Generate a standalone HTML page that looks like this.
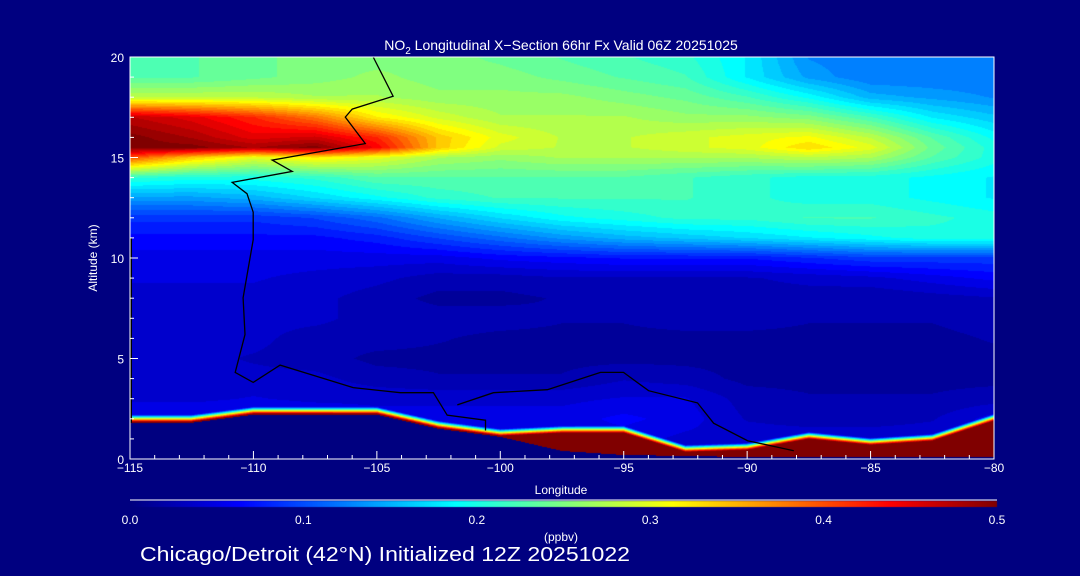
<!DOCTYPE html>
<html><head><meta charset="utf-8">
<style>
html,body{margin:0;padding:0;background:#000080;}
#wrap{position:relative;width:1080px;height:576px;background:#000080;overflow:hidden;font-family:"Liberation Sans",sans-serif;}
canvas,svg{position:absolute;left:0;top:0;}
</style></head>
<body>
<div id="wrap">
<canvas id="field" width="1080" height="576"></canvas>
<svg id="ov" width="1080" height="576"></svg>
</div>
<script>
// ---- data ----
const lons = [-115,-112.5,-110,-107.5,-105,-102.5,-100,-97.5,-95,-92.5,-90,-87.5,-85,-82.5,-80];
const alts = [0,1,2,3,4,5,6,7,8,9,10,11,12,13,14,15,15.5,16,17,18,19,20];
const a0  = [0.05,0.05,0.05,0.05,0.05,0.05,0.05,0.05,0.05,0.04,0.04,0.04,0.04,0.04,0.04];
const a1  = [0.05,0.05,0.05,0.05,0.05,0.05,0.05,0.05,0.05,0.04,0.04,0.04,0.04,0.04,0.04];
const a2  = [0.06,0.06,0.06,0.06,0.05,0.05,0.05,0.05,0.06,0.05,0.03,0.025,0.025,0.03,0.05];
const a3  = [0.04,0.04,0.045,0.04,0.04,0.04,0.04,0.04,0.045,0.045,0.025,0.02,0.02,0.02,0.025];
const a4  = [0.035,0.035,0.035,0.035,0.025,0.02,0.02,0.02,0.03,0.025,0.015,0.015,0.015,0.015,0.015];
const a5  = [0.035,0.035,0.03,0.025,0.015,0.015,0.015,0.015,0.015,0.015,0.015,0.015,0.015,0.015,0.015];
const a6  = [0.035,0.035,0.035,0.025,0.025,0.02,0.015,0.015,0.015,0.015,0.015,0.015,0.015,0.015,0.02];
const a7  = [0.04,0.04,0.035,0.035,0.025,0.025,0.025,0.02,0.02,0.025,0.025,0.02,0.02,0.02,0.025];
const a8  = [0.04,0.04,0.04,0.035,0.025,0.015,0.015,0.02,0.025,0.025,0.025,0.025,0.02,0.025,0.03];
const a9  = [0.045,0.045,0.045,0.04,0.035,0.025,0.025,0.03,0.03,0.03,0.03,0.035,0.04,0.05,0.06];
const a10 = [0.05,0.05,0.05,0.05,0.05,0.05,0.06,0.065,0.07,0.07,0.07,0.08,0.09,0.09,0.09];
const a11 = [0.065,0.065,0.065,0.065,0.075,0.095,0.115,0.135,0.15,0.16,0.17,0.18,0.19,0.2,0.2];
const a12 = [0.085,0.085,0.085,0.095,0.115,0.145,0.17,0.19,0.2,0.21,0.21,0.22,0.22,0.21,0.2];
const a13 = [0.14,0.14,0.15,0.17,0.19,0.21,0.22,0.22,0.22,0.22,0.21,0.2,0.2,0.19,0.18];
const a14 = [0.21,0.2,0.2,0.21,0.23,0.23,0.23,0.23,0.23,0.22,0.21,0.2,0.2,0.19,0.18];
const a15 = [0.4,0.34,0.3,0.32,0.3,0.27,0.26,0.27,0.27,0.27,0.27,0.28,0.27,0.23,0.2];
const a155= [0.5,0.5,0.48,0.5,0.44,0.34,0.29,0.28,0.28,0.29,0.3,0.33,0.3,0.24,0.2];
const a16 = [0.5,0.48,0.45,0.46,0.42,0.34,0.3,0.28,0.28,0.29,0.3,0.31,0.28,0.23,0.19];
const a17 = [0.47,0.45,0.42,0.38,0.32,0.29,0.27,0.27,0.27,0.26,0.26,0.25,0.22,0.18,0.16];
const a18 = [0.28,0.28,0.28,0.27,0.27,0.26,0.26,0.26,0.25,0.24,0.22,0.19,0.15,0.14,0.13];
const a19 = [0.23,0.23,0.24,0.25,0.26,0.25,0.25,0.24,0.23,0.22,0.18,0.14,0.12,0.12,0.12];
const a20 = [0.22,0.23,0.24,0.25,0.25,0.25,0.24,0.23,0.22,0.21,0.18,0.13,0.12,0.12,0.12];
const terrain = [1.8,1.8,2.2,2.2,2.2,1.5,1.1,0.4,0.2,0.15,0.1,0.1,0.1,0.1,0.1];
const redTop  = [1.85,1.85,2.25,2.25,2.25,1.55,1.15,1.3,1.3,0.35,0.45,1.0,0.7,0.9,1.9];
const lineALon = [-105.15,-104.34,-106.0,-106.28,-105.47,-109.24,-108.43,-110.86,-110.26,-110.01,-110.01,-110.42,-110.34,-110.74,-110.01,-108.92,-105.96,-104.05,-102.71,-102.15,-100.6,-100.6];
const lineAAlt = [20,18.05,17.41,17.01,15.69,14.87,14.31,13.76,13.2,12.28,10.91,8.02,6.19,4.31,3.81,4.67,3.55,3.3,3.3,2.18,1.93,1.42];
const lineBLon = [-101.74,-100.28,-98.09,-95.94,-95.01,-93.99,-92.01,-91.36,-89.98,-88.11];
const lineBAlt = [2.69,3.3,3.45,4.31,4.31,3.4,2.79,1.78,0.91,0.41];
const xTicks = [-115,-110,-105,-100,-95,-90,-85,-80];
const yTicks = [0,5,10,15,20];
const cbTicks = [0.0,0.1,0.2,0.3,0.4,0.5];
const grid = [a0,a1,a2,a3,a4,a5,a6,a7,a8,a9,a10,a11,a12,a13,a14,a15,a155,a16,a17,a18,a19,a20];

// ---- scales ----
const X0=130,X1=994,Y0=459,Y1=57,VMAX=0.5;
const xs = lon => X0+(lon+115)/35*(X1-X0);
const ys = a => Y0-(a/20)*(Y0-Y1);
const cbx = v => 130+v/VMAX*(997-130);
function jet(t){t=Math.max(0,Math.min(1,t));const c=v=>Math.round(255*Math.max(0,Math.min(1,v)));
 return [c(1.5-Math.abs(4*t-3)),c(1.5-Math.abs(4*t-2)),c(1.5-Math.abs(4*t-1))];}
function colInterp(arr,lon){let f=(lon+115)/2.5;let i=Math.max(0,Math.min(lons.length-2,Math.floor(f)));let w=f-i;w=Math.max(0,Math.min(1,w));return arr[i]*(1-w)+arr[i+1]*w;}
function field(lon,a){let j=0;while(j<alts.length-2&&alts[j+1]<a)j++;
 let w=(a-alts[j])/(alts[j+1]-alts[j]);w=Math.max(0,Math.min(1,w));
 return colInterp(grid[j],lon)*(1-w)+colInterp(grid[j+1],lon)*w;}

// ---- field draw ----
const cv=document.getElementById('field');const ctx=cv.getContext('2d');
const img=ctx.createImageData(X1-X0,Y0-Y1);
for(let py=0;py<Y0-Y1;py++){const a=(Y0-(Y1+py+0.5))/(Y0-Y1)*20;
 for(let px=0;px<X1-X0;px++){const lon=-115+(px+0.5)/(X1-X0)*35;
  const ter=colInterp(terrain,lon),rt=colInterp(redTop,lon);let rgb;
  if(a<ter){rgb=[0,0,128];}
  else{let v;const g=field(lon,a);
   if(a<rt)v=0.5;else{let w=(a-rt)/0.35;v=w<1?0.5*(1-w)+g*w:g;}
   let t=Math.round(v/VMAX*40)/40;rgb=jet(t);}
  const k=(py*(X1-X0)+px)*4;img.data[k]=rgb[0];img.data[k+1]=rgb[1];img.data[k+2]=rgb[2];img.data[k+3]=255;}}
ctx.putImageData(img,X0,Y1);
// colorbar
for(let px=0;px<867;px++){const rgb=jet(px/867);ctx.fillStyle=`rgb(${rgb})`;ctx.fillRect(130+px,501,1,6);}

// ---- overlay ----
const NS='http://www.w3.org/2000/svg';const ov=document.getElementById('ov');
function mk(tag,attrs,parent){const e=document.createElementNS(NS,tag);for(const k in attrs)e.setAttribute(k,attrs[k]);(parent||ov).appendChild(e);return e;}
function txt(s,x,y,size,anchor,name){const t=mk('text',{x:x,y:y,'font-size':size,fill:'#fff','text-anchor':anchor||'middle','font-family':'Liberation Sans, sans-serif'});t.textContent=s;
 
 return t;}
function contour(lo,al,name){const p=lo.map((l,i)=>xs(l).toFixed(1)+','+ys(al[i]).toFixed(1)).join(' ');
 const e=mk('polyline',{points:p,fill:'none',stroke:'#000','stroke-width':1.3});
 
 }
contour(lineALon,lineAAlt,'contour-line-0-west');
contour(lineBLon,lineBAlt,'contour-line-0-east');
const edge=mk('line',{x1:X0+1,y1:ys(1.8),x2:X0+1,y2:ys(11),stroke:'#000','stroke-width':2});


const frame=mk('rect',{x:X0,y:Y1,width:X1-X0,height:Y0-Y1,fill:'none',stroke:'#fff','stroke-width':1});


for(let l=-115;l<=-80;l++){const major=(l%5===0);const tk=mk('line',{x1:xs(l),x2:xs(l),y1:Y0,y2:Y0-(major?8:4),stroke:'#fff'});
 
 }
for(let a=0;a<=20;a++){const major=(a%5===0);const tk=mk('line',{x1:X0,x2:X0+(major?8:4),y1:ys(a),y2:ys(a),stroke:'#fff'});
 
 }
xTicks.forEach(l=>txt('\u2212'+Math.abs(l),xs(l),472,12,'middle','x-tick-label'));
yTicks.forEach(a=>txt(String(a),124,ys(a)+5,12,'end','y-tick-label'));
txt('Longitude',561,494,12,'middle','x-axis-title');
const yl=txt('Altitude (km)',0,0,12,'middle','y-axis-title');yl.setAttribute('transform','translate(97,258) rotate(-90)');
const ti=txt('',561,50,14,'middle','chart-title');
ti.innerHTML='NO<tspan font-size="10" dy="4">2</tspan><tspan dy="-4"> Longitudinal X\u2212Section 66hr  Fx Valid 06Z 20251025</tspan>';
ti.setAttribute('xml:space','preserve');
const cbl=mk('line',{x1:130,x2:997,y1:500,y2:500,stroke:'#fff'});


cbTicks.forEach(v=>txt(v.toFixed(1),cbx(v),524,12,'middle','colorbar-tick-label'));
txt('(ppbv)',561,541,12,'middle','colorbar-unit');
const cap=txt('Chicago/Detroit (42\u00b0N) Initialized 12Z 20251022',140,561,20,'start','caption');
cap.setAttribute('textLength','490');
cap.setAttribute('lengthAdjust','spacingAndGlyphs');
</script>
</body></html>
